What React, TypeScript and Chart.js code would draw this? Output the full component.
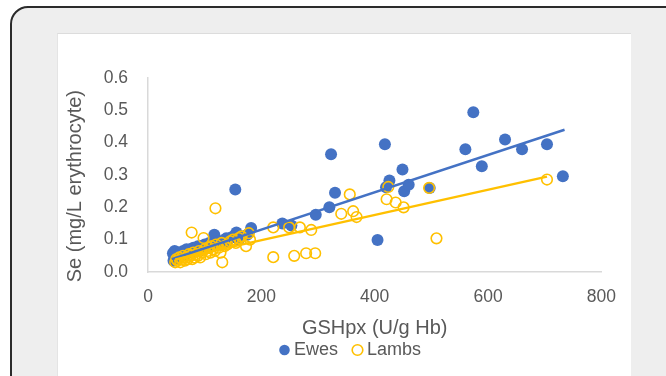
import React, { useEffect, useRef } from "react";
import { Chart, registerables } from "chart.js";

Chart.register(...registerables);

// Ewes (filled blue circles)
const ewesX = [
  44, 45, 46, 47, 48, 50, 52, 55, 58, 60, 62, 65, 68, 70, 72, 75, 78, 80, 85, 88,
  90, 95, 100, 105, 108, 110, 117, 120, 125, 130, 135, 138, 140, 145, 150, 156, 160, 165, 175, 182,
  154, 237, 253, 296, 320, 330, 323, 405, 418, 426, 420, 452, 460, 449, 497, 560, 574, 589, 630, 660,
  704, 732,
];
const ewesY = [
  0.058, 0.035, 0.05, 0.065, 0.045, 0.062, 0.04, 0.055, 0.06, 0.05, 0.065, 0.055, 0.07, 0.06, 0.065, 0.07, 0.06, 0.075, 0.07, 0.08,
  0.065, 0.08, 0.085, 0.075, 0.09, 0.08, 0.115, 0.09, 0.095, 0.085, 0.1, 0.104, 0.095, 0.105, 0.11, 0.122, 0.1, 0.11, 0.115, 0.136,
  0.255, 0.15, 0.144, 0.177, 0.2, 0.245, 0.364, 0.099, 0.395, 0.283, 0.262, 0.25, 0.27, 0.317, 0.26, 0.38, 0.494, 0.327, 0.41, 0.38,
  0.395, 0.296,
];

// Lambs (open yellow circles)
const lambsX = [
  48, 50, 52, 55, 57, 60, 62, 65, 68, 70, 72, 75, 77, 78, 80, 82, 85, 88, 90, 92,
  95, 98, 100, 102, 105, 108, 110, 112, 115, 118, 119, 120, 125, 128, 130, 131, 135, 140, 145, 150,
  155, 160, 165, 173, 178, 180, 221, 221, 249, 258, 268, 279, 288, 295, 341, 356, 362, 368, 421, 424,
  437, 451, 496, 509, 704,
];
const lambsY = [
  0.03, 0.04, 0.035, 0.045, 0.03, 0.04, 0.05, 0.035, 0.045, 0.04, 0.055, 0.05, 0.122, 0.04, 0.06, 0.045, 0.055, 0.05, 0.065, 0.045,
  0.06, 0.105, 0.07, 0.055, 0.065, 0.075, 0.06, 0.08, 0.07, 0.065, 0.197, 0.085, 0.075, 0.06, 0.09, 0.03, 0.08, 0.085, 0.095, 0.1,
  0.09, 0.105, 0.11, 0.08, 0.12, 0.1, 0.046, 0.138, 0.138, 0.05, 0.138, 0.058, 0.13, 0.058, 0.18, 0.24, 0.188, 0.17, 0.225, 0.263,
  0.215, 0.2, 0.26, 0.104, 0.286,
];

// Linear trend lines (end points)
const ewesTrendX = [42, 735];
const ewesTrendY = [0.04, 0.44];
const lambsTrendX = [48, 704];
const lambsTrendY = [0.039, 0.295];

const xTicks = [0, 200, 400, 600, 800];
const yTicks = [0, 0.1, 0.2, 0.3, 0.4, 0.5, 0.6];

const seriesNames = ["Ewes", "Lambs"];
const xTitle = "GSHpx (U/g Hb)";
const yTitle = "Se (mg/L erythrocyte)";

const BLUE = "#4472C4";
const GOLD = "#FFC000";
const TEXT = "#595959";
const AXIS = "#d9d9d9";
const FONT = "'Liberation Sans', Arial, sans-serif";

const pts = (xs: number[], ys: number[]) => xs.map((x, i) => ({ x, y: ys[i] }));

export default function App() {
  const ref = useRef<HTMLCanvasElement | null>(null);

  useEffect(() => {
    if (!ref.current) return;
    const chart = new Chart(ref.current, {
      type: "scatter",
      data: {
        datasets: [
          {
            label: seriesNames[0],
            data: pts(ewesX, ewesY),
            backgroundColor: BLUE,
            borderColor: BLUE,
            borderWidth: 0,
            pointRadius: 6,
            pointStyle: "circle",
            order: 4,
          },
          {
            label: seriesNames[1],
            data: pts(lambsX, lambsY),
            backgroundColor: "rgba(0,0,0,0)",
            borderColor: GOLD,
            borderWidth: 1.6,
            pointRadius: 5.3,
            pointStyle: "circle",
            order: 3,
          },
          {
            label: "trendEwes",
            data: pts(ewesTrendX, ewesTrendY),
            showLine: true,
            borderColor: BLUE,
            borderWidth: 2.5,
            pointRadius: 0,
            order: 2,
          } as any,
          {
            label: "trendLambs",
            data: pts(lambsTrendX, lambsTrendY),
            showLine: true,
            borderColor: GOLD,
            borderWidth: 2.5,
            pointRadius: 0,
            order: 1,
          } as any,
        ],
      },
      options: {
        animation: false,
        responsive: false,
        maintainAspectRatio: false,
        layout: { padding: { left: 44, top: 44, right: 27, bottom: 7 } },
        plugins: {
          tooltip: { enabled: false },
          legend: {
            position: "bottom",
            labels: {
              usePointStyle: true,
              boxWidth: 1,
              boxHeight: 7.5,
              padding: 19,
              color: TEXT,
              font: { family: FONT, size: 18 },
              filter: (item: any) => item.datasetIndex < 2,
              sort: (a: any, b: any) => a.datasetIndex - b.datasetIndex,
            },
          },
        },
        scales: {
          x: {
            type: "linear",
            min: 0,
            max: 800,
            afterBuildTicks: (s: any) => {
              s.ticks = xTicks.map((v) => ({ value: v }));
            },
            grid: { display: false, drawTicks: false },
            border: { display: true, color: AXIS, width: 1.5 },
            ticks: {
              color: TEXT,
              padding: 15,
              font: { family: FONT, size: 17.5 },
              callback: (v: any) => String(v),
            },
            title: {
              display: true,
              text: xTitle,
              color: TEXT,
              font: { family: FONT, size: 20, lineHeight: 1 },
              padding: { top: 0, bottom: -16 },
            },
            afterFit: (s: any) => {
              s.height = 50;
            },
          },
          y: {
            type: "linear",
            min: 0,
            max: 0.6,
            afterBuildTicks: (s: any) => {
              s.ticks = yTicks.map((v) => ({ value: v }));
            },
            grid: { display: false, drawTicks: false },
            border: { display: true, color: AXIS, width: 1.5 },
            ticks: {
              color: TEXT,
              padding: 20,
              font: { family: FONT, size: 17.5 },
              callback: (v: any) => Number(v).toFixed(1),
            },
            title: {
              display: true,
              text: yTitle + "\u00a0\u00a0\u00a0\u00a0",
              color: TEXT,
              font: { family: FONT, size: 20, lineHeight: 1 },
              padding: { top: -36, bottom: 0 },
            },
            afterFit: (s: any) => {
              s.width = 47;
            },
          },
        },
      },
    });
    return () => chart.destroy();
  }, []);

  return (
    <div
      style={{
        position: "absolute",
        left: 0,
        top: 0,
        width: 666,
        height: 376,
        overflow: "hidden",
        background: "#ffffff",
      }}
    >
      <div
        style={{
          position: "absolute",
          left: 10,
          top: 6,
          width: 720,
          height: 420,
          border: "2px solid #2b2b2b",
          borderRadius: 18,
          background: "#eeeeee",
          boxSizing: "border-box",
        }}
      />
      <div
        style={{
          position: "absolute",
          left: 57,
          top: 33,
          width: 574,
          height: 360,
          background: "#ffffff",
          borderTop: "1px solid #dcdcdc",
          borderLeft: "1px solid #e4e4e4",
          boxSizing: "border-box",
        }}
      />
      <canvas
        ref={ref}
        width={574}
        height={342}
        style={{ position: "absolute", left: 57, top: 34, width: 574, height: 342 }}
      />
    </div>
  );
}
